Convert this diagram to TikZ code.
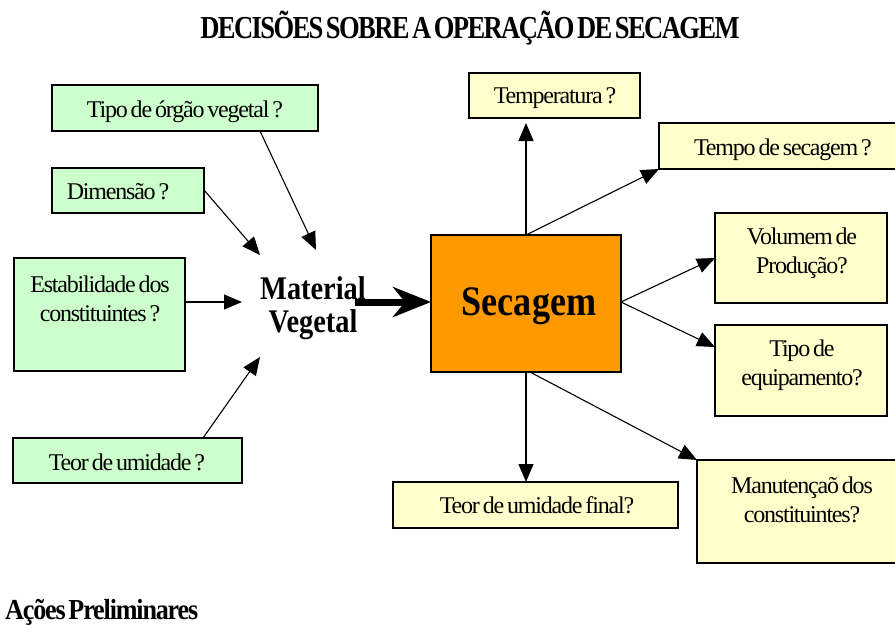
\documentclass[tikz,border=0pt]{standalone}
\usepackage{fontspec}
\setmainfont{Liberation Serif}
\newfontfamily\boxfont[LetterSpace=-5,WordSpace=0.6]{Liberation Serif}
\newfontfamily\titlefont[FakeStretch=0.83,LetterSpace=-5,WordSpace=0.5]{Liberation Serif Bold}
\newfontfamily\footfont[FakeStretch=0.9,LetterSpace=-4,WordSpace=0.5]{Liberation Serif Bold}
\newfontfamily\bigfont[FakeStretch=0.86]{Liberation Serif Bold}
\usetikzlibrary{arrows.meta}
\definecolor{boxgreen}{HTML}{CCFFCC}
\definecolor{boxyellow}{HTML}{FFFFCC}
\definecolor{secorange}{HTML}{FF9900}
\tikzset{
  gbox/.style={draw=black, line width=1.2pt, fill=boxgreen, inner sep=0pt},
  ybox/.style={draw=black, line width=1.2pt, fill=boxyellow, inner sep=0pt},
  secbox/.style={draw=black, line width=2.6pt, fill=secorange, inner sep=0pt},
  btxt/.style={font=\boxfont\fontsize{24}{29}\selectfont, inner sep=0pt, align=center},
  arr/.style={line width=1.1pt, -{Triangle[length=18pt,width=15pt]}},
  thickarr/.style={line width=7pt, -{Stealth[length=38pt,width=30pt,inset=12pt]}}
}
\begin{document}
\begin{tikzpicture}[x=1pt,y=-1pt]
\useasboundingbox (0,0) rectangle (895,625);
% title
\node[font=\titlefont\fontsize{32}{34}\selectfont, anchor=base, inner sep=0pt] (title) at (470,38) {DECISÕES SOBRE A OPERAÇÃO DE SECAGEM};
% left boxes
\node[gbox, minimum width=266pt, minimum height=46pt] (tipo) at (185,108) {};
\node[gbox, minimum width=152pt, minimum height=45pt] (dim) at (128,190.5) {};
\node[gbox, minimum width=171pt, minimum height=113pt] (estab) at (99.5,314.5) {};
\node[gbox, minimum width=229pt, minimum height=45pt] (teor) at (127.5,460.5) {};
\node[btxt, anchor=base] (tipot) at (185,117) {Tipo de órgão vegetal ?};
\node[btxt, anchor=base] (dimt) at (118,199) {Dimensão ?};
\node[btxt] (estabt) at (100,299) {Estabilidade dos\\constituintes ?};
\node[btxt, anchor=base] (teort) at (127,470) {Teor de umidade ?};
% material vegetal
\node[font=\bigfont\fontsize{33}{33}\selectfont, align=center, inner sep=0pt] (mv) at (313,308.5) {Material\\Vegetal};
% secagem
\node[secbox, minimum width=190pt, minimum height=137pt] (sec) at (526,303.5) {};
\node[font=\bigfont\fontsize{42}{42}\selectfont, anchor=base, inner sep=0pt] (sect) at (529,315) {Secagem};
% right boxes
\node[ybox, minimum width=171pt, minimum height=45pt] (temp) at (554.5,95.5) {};
\node[ybox, minimum width=241pt, minimum height=46pt] (tempo) at (779.5,146) {};
\node[ybox, minimum width=172pt, minimum height=90pt] (vol) at (801,258) {};
\node[ybox, minimum width=172pt, minimum height=91pt] (equip) at (801,370.5) {};
\node[ybox, minimum width=285pt, minimum height=46pt] (tfinal) at (535.5,505) {};
\node[ybox, minimum width=203pt, minimum height=103pt] (manut) at (798.5,511.5) {};
\node[btxt, anchor=base] (tempt) at (555,103) {Temperatura ?};
\node[btxt, anchor=base] (tempot) at (783,155) {Tempo de secagem ?};
\node[btxt] (volt) at (802,253) {Volumem de\\Produção?};
\node[btxt] (equipt) at (802,365) {Tipo de\\equipamento?};
\node[btxt, anchor=base] (tfinalt) at (537,513) {Teor de umidade final?};
\node[btxt] (manutt) at (802,500) {Manutençaõ dos\\constituintes?};
% bottom label
\node[font=\footfont\fontsize{29}{30}\selectfont, anchor=base west, inner sep=0pt] (acoes) at (5,619) {Ações Preliminares};
% connector points
\coordinate (s1) at (260,131);
\coordinate (e1) at (316,250);
\coordinate (s2) at (204,190);
\coordinate (e2) at (260,255);
\coordinate (s3) at (185,302);
\coordinate (e3) at (242,302);
\coordinate (s4) at (203,438);
\coordinate (e4) at (260,357);
\coordinate (mvs) at (355,302);
\coordinate (secw) at (431,302);
\coordinate (sectop) at (526,235);
\coordinate (tempe) at (526,123);
\coordinate (tempoe) at (659,169);
\coordinate (sece) at (621,302);
\coordinate (vole) at (715,258);
\coordinate (equipe) at (715,347);
\coordinate (secbot) at (526,372);
\coordinate (tfinale) at (526,482);
\coordinate (secbot2) at (530,372);
\coordinate (manute) at (697,460);
% connectors
\draw[arr] (s1) -- (e1);
\draw[arr] (s2) -- (e2);
\draw[arr] (s3) -- (e3);
\draw[arr] (s4) -- (e4);
\draw[thickarr] (mvs) -- (secw);
\draw[arr] (sectop) -- (tempe);
\draw[arr] (sectop) -- (tempoe);
\draw[arr] (sece) -- (vole);
\draw[arr] (sece) -- (equipe);
\draw[arr] (secbot) -- (tfinale);
\draw[arr] (secbot2) -- (manute);
\end{tikzpicture}
\end{document}
